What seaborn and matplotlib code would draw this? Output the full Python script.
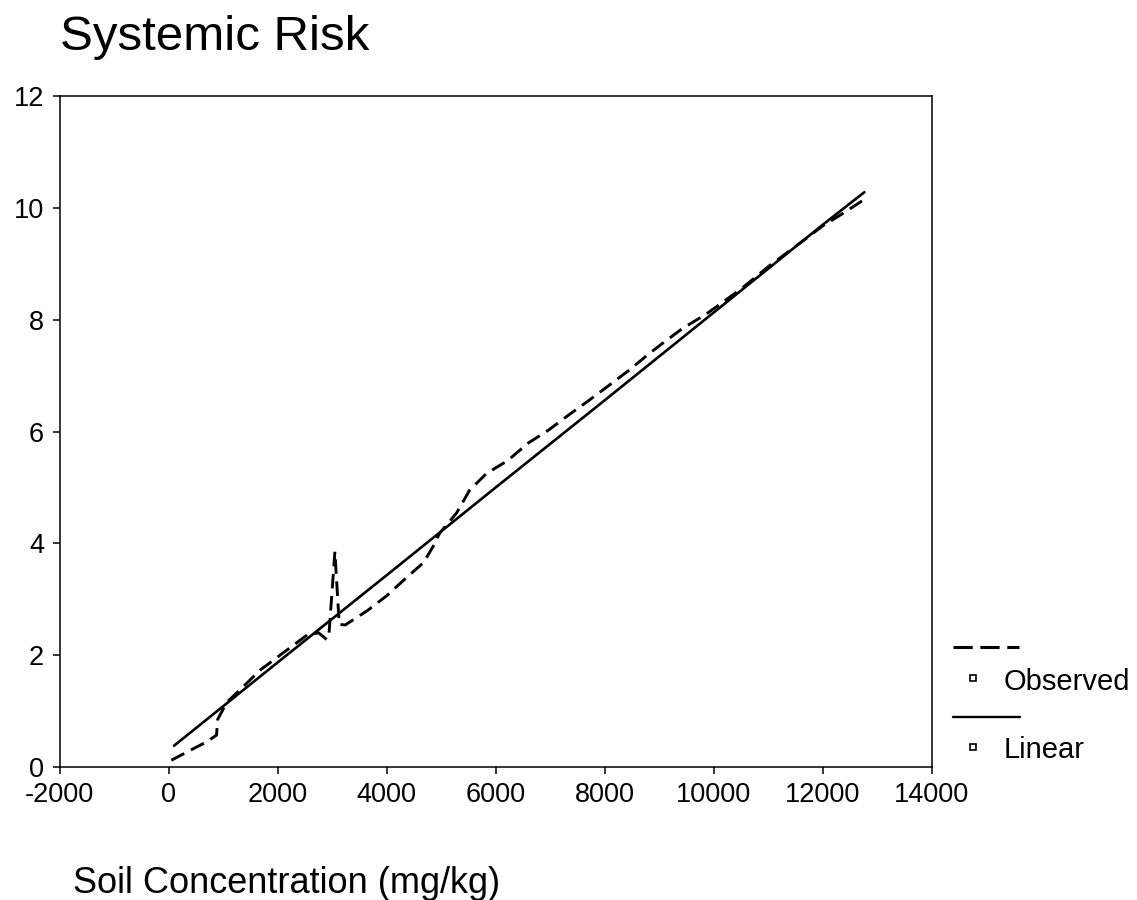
import numpy as np
import pandas as pd
import matplotlib
matplotlib.use("Agg")
import matplotlib.pyplot as plt
from matplotlib.lines import Line2D
import seaborn as sns

# ---- data ----
obs_x = [50, 400, 700, 880, 900, 1070, 1300, 1675, 2100, 2540, 2750, 2900,
         2940, 3050, 3130, 3240, 3650, 4010, 4310, 4680, 4860, 4970, 5280,
         5520, 5830, 6220, 6590, 6960, 7330, 7700, 8070, 8450, 8810, 9050,
         9420, 9860, 10500, 11000, 11690, 12000, 12350, 12760]
obs_y = [0.12, 0.30, 0.45, 0.57, 0.85, 1.16, 1.37, 1.73, 2.04, 2.36, 2.40, 2.28,
         2.35, 3.85, 2.55, 2.54, 2.80, 3.07, 3.34, 3.66, 3.96, 4.18, 4.54,
         4.95, 5.25, 5.48, 5.79, 6.02, 6.29, 6.55, 6.82, 7.10, 7.39, 7.57,
         7.84, 8.10, 8.55, 8.95, 9.45, 9.68, 9.89, 10.15]
lin_x = [100, 2000, 4000, 6000, 8000, 10000, 12000, 12760]
lin_y = [0.38, 1.87, 3.43, 5.00, 6.56, 8.13, 9.70, 10.28]

x_ticks = [-2000, 0, 2000, 4000, 6000, 8000, 10000, 12000, 14000]
y_ticks = [0, 2, 4, 6, 8, 10, 12]

title = "Systemic Risk"
xlabel = "Soil Concentration (mg/kg)"
legend_labels = ["Observed", "Linear"]

# ---- style ----
sns.set_theme(style="ticks")
plt.rcParams["font.family"] = ["Liberation Sans", "DejaVu Sans"]

W, H = 1137, 900
fig = plt.figure(figsize=(W / 100, H / 100), dpi=100)
fig.patch.set_facecolor("white")
ax = fig.add_axes([59.5 / W, 1 - 767 / H, (932 - 59.5) / W, (767 - 96) / H])
ax.set_facecolor("white")

df_obs = pd.DataFrame({"x": obs_x, "y": obs_y})
df_lin = pd.DataFrame({"x": lin_x, "y": lin_y})

sns.lineplot(data=df_obs, x="x", y="y", sort=False, estimator=None,
             color="black", lw=2.1, ax=ax)
ax.lines[-1].set_dashes([5, 2.6])
sns.lineplot(data=df_lin, x="x", y="y", sort=False, estimator=None,
             color="black", lw=1.9, ax=ax)

ax.set_xlim(-2000, 14000)
ax.set_ylim(0, 12)
ax.set_xticks(x_ticks)
ax.set_yticks(y_ticks)
ax.set_xticklabels([str(t) for t in x_ticks])
ax.set_yticklabels([str(t) for t in y_ticks])
ax.set_xlabel("")
ax.set_ylabel("")
for s in ax.spines.values():
    s.set_visible(True)
    s.set_color("black")
    s.set_linewidth(1.1)
ax.tick_params(axis="both", direction="out", length=5, width=1.1,
               colors="black", labelsize=19.5, pad=6)
ax.tick_params(axis="x", pad=6)
ax.grid(False)

# title and x label
fig.text(60 / W, 1 - 50 / H, title, fontsize=35.5, ha="left", va="baseline",
         color="black")
fig.text(73 / W, 1 - 893 / H, xlabel, fontsize=26, ha="left", va="baseline",
         color="black")

# custom legend outside the axes (right side)
tf = fig.transFigure
def fx(px):
    return px / W
def fy(py):
    return 1 - py / H

l1 = Line2D([fx(953), fx(1019)], [fy(647), fy(647)], transform=tf,
            color="black", lw=2.2)
l1.set_dashes([6.3, 2.5])
fig.add_artist(l1)
fig.add_artist(Line2D([fx(973)], [fy(678)], transform=tf, marker="s",
                      markersize=5, markerfacecolor="white",
                      markeredgecolor="black", markeredgewidth=1.2,
                      linestyle="none"))
fig.text(fx(1004), fy(690), legend_labels[0], fontsize=21, ha="left",
         va="baseline", color="black")

fig.add_artist(Line2D([fx(953), fx(1020)], [fy(717), fy(717)], transform=tf,
                      color="black", lw=1.7))
fig.add_artist(Line2D([fx(973)], [fy(747)], transform=tf, marker="s",
                      markersize=5, markerfacecolor="white",
                      markeredgecolor="black", markeredgewidth=1.2,
                      linestyle="none"))
fig.text(fx(1004), fy(758), legend_labels[1], fontsize=21, ha="left",
         va="baseline", color="black")

fig.savefig("out.png", dpi=100, facecolor="white")
